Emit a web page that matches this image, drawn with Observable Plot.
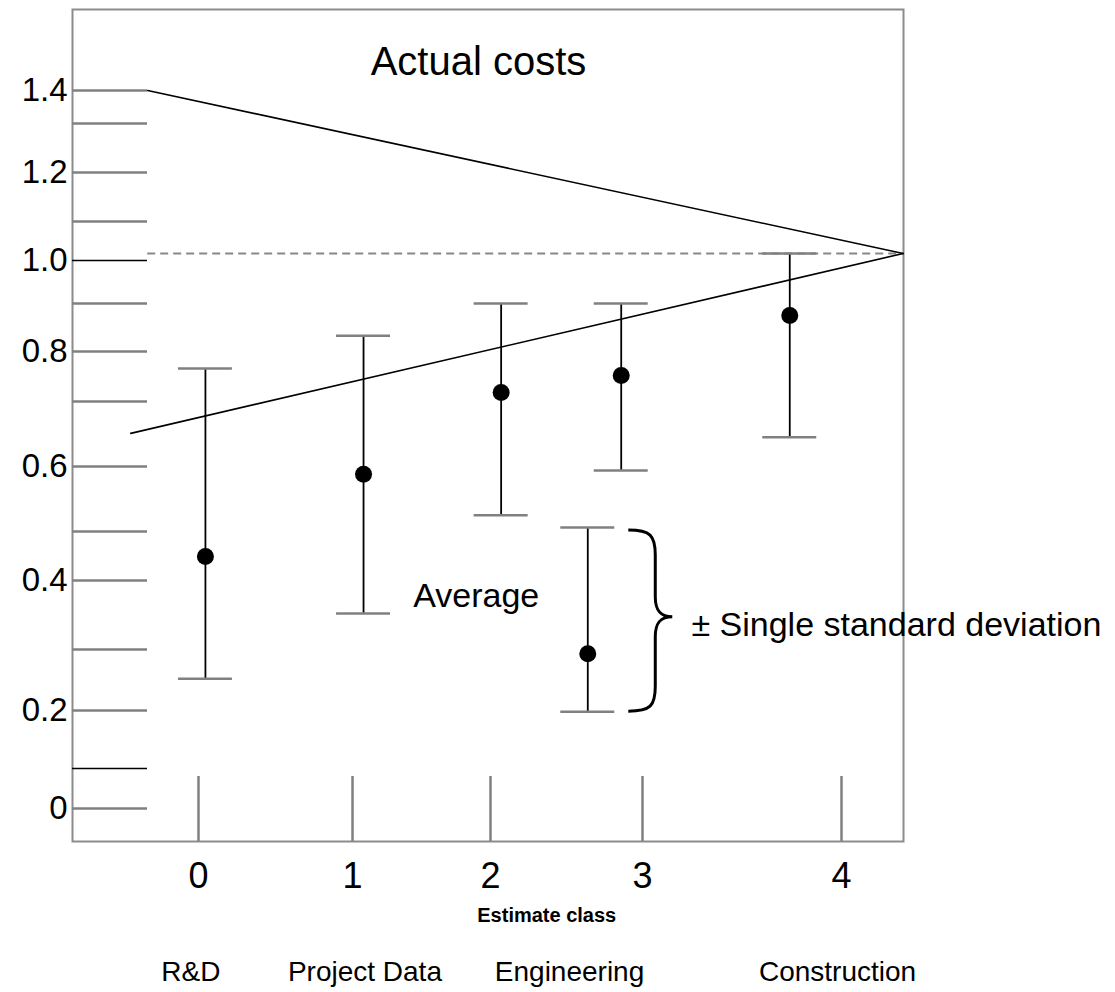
<!DOCTYPE html>
<html>
<head>
<meta charset="utf-8">
<script src="https://cdn.jsdelivr.net/npm/d3@7"></script>
<script src="https://cdn.jsdelivr.net/npm/@observablehq/plot@0.6"></script>
<style>
  html, body { margin: 0; padding: 0; background: #fff; }
  #chart svg { display: block; }
</style>
</head>
<body>
<div id="chart"></div>
<script>
// ---- data ----
const classes = [0, 1, 2, 3, 4];
const classLabels = ["0", "1", "2", "3", "4"];
const pointX = [0.045, 1.08, 2.07, 2.86, 3.74];
const average = [0.449, 0.588, 0.718, 0.752, 0.875];
const sdHigh = [0.766, 0.833, 0.90, 0.90, 1.018];
const sdLow = [0.252, 0.352, 0.525, 0.594, 0.645];

const legendX = [2.64];
const legendAverage = [0.293];
const legendHigh = [0.506];
const legendLow = [0.198];

const labeledTicks = [0, 0.2, 0.4, 0.6, 0.8, 1.0, 1.2, 1.4];
const grayTicks = [0, 0.2, 0.3, 0.4, 0.5, 0.6, 0.7, 0.8, 0.9, 1.1, 1.2, 1.3, 1.4];
const darkTicks = [0.1, 1.0];

const upperX = [-0.33, 4.31];
const upperY = [1.4, 1.018];
const lowerX = [-0.44, 4.31];
const lowerY = [0.651, 1.018];
const targetY = 1.018;

const phases = ["R&D", "Project Data", "Engineering", "Construction"];
const phaseX = [-0.05, 1.09, 2.52, 3.98];

const notes = ["Actual costs", "Average", "\u00B1 Single standard deviation"];
const noteX = [1.913, 1.44, 3.246];
const noteY = [1.485, 0.377, 0.335];

// ---- tables built from the arrays ----
const bars = classes.map((c, i) => ({c, x: pointX[i], avg: average[i], hi: sdHigh[i], lo: sdLow[i]}));
const legendBar = legendX.map((x, i) => ({x, avg: legendAverage[i], hi: legendHigh[i], lo: legendLow[i]}));
const upper = upperX.map((x, i) => ({x, y: upperY[i]}));
const lower = lowerX.map((x, i) => ({x, y: lowerY[i]}));
const phaseRows = phases.map((p, i) => ({p, x: phaseX[i]}));

// hand-drawn, irregular axis spacing in the original -> piecewise linear scales
const yDomain = [0, 0.1, 0.2, 0.3, 0.4, 0.5, 0.6, 0.7, 0.8, 0.9, 1.0, 1.1, 1.2, 1.3, 1.4];
const yRange = [808, 768, 710, 649, 580, 531, 466, 401, 351, 303, 260, 221, 172, 123, 90];
const xRange = [198, 352, 490, 642, 841];

const FONT = "'Liberation Sans', Arial, Helvetica, sans-serif";
const GRAY = "#808080";

function brace(index, scales) {
  const b = legendBar[0];
  const x0 = scales.x(b.x) + 41;
  const top = scales.y(b.hi) + 3;
  const bottom = scales.y(b.lo);
  const mid = (top + bottom) / 2 - 4;
  const p = d3.path();
  p.moveTo(x0, top);
  p.bezierCurveTo(x0 + 22, top, x0 + 27, top + 5, x0 + 27, top + 25);
  p.lineTo(x0 + 27, mid - 20);
  p.bezierCurveTo(x0 + 27, mid - 5, x0 + 33, mid, x0 + 44, mid);
  p.bezierCurveTo(x0 + 33, mid, x0 + 27, mid + 5, x0 + 27, mid + 20);
  p.lineTo(x0 + 27, bottom - 25);
  p.bezierCurveTo(x0 + 27, bottom - 5, x0 + 22, bottom, x0, bottom);
  return d3.create("svg:path")
    .attr("d", p.toString())
    .attr("fill", "none")
    .attr("stroke", "black")
    .attr("stroke-width", 3)
    .node();
}

const chart = Plot.plot({
  width: 1115,
  height: 992,
  marginLeft: 72,
  marginRight: 212,
  marginTop: 9,
  marginBottom: 151,
  style: {fontFamily: FONT, background: "white", color: "black"},
  x: {type: "linear", domain: classes, range: xRange, axis: null},
  y: {type: "linear", domain: yDomain, range: yRange, axis: null},
  marks: [
    Plot.frame({stroke: "#8c8c8c", strokeWidth: 2}),
    // inward tick lines on the y axis
    Plot.ruleY(grayTicks, {insetRight: 756, stroke: GRAY, strokeWidth: 2.5}),
    Plot.ruleY(darkTicks, {insetRight: 756, stroke: "black", strokeWidth: 1.5}),
    // vertical class ticks
    Plot.ruleX(classes, {insetTop: 767, stroke: GRAY, strokeWidth: 2.5}),
    // dashed target line
    Plot.ruleY([targetY], {x1: upperX[0], x2: upperX[1], stroke: "#888", strokeWidth: 2, strokeDasharray: "8,5"}),
    // envelope
    Plot.line(upper, {x: "x", y: "y", stroke: "black", strokeWidth: 1.6}),
    Plot.line(lower, {x: "x", y: "y", stroke: "black", strokeWidth: 1.6}),
    // error bars
    Plot.ruleX(bars, {x: "x", y1: "lo", y2: "hi", stroke: "black", strokeWidth: 1.8}),
    Plot.ruleY(bars, {y: "hi", x1: "x", x2: "x", insetLeft: -27, insetRight: -27, stroke: GRAY, strokeWidth: 2.5}),
    Plot.ruleY(bars, {y: "lo", x1: "x", x2: "x", insetLeft: -27, insetRight: -27, stroke: GRAY, strokeWidth: 2.5}),
    Plot.dot(bars, {x: "x", y: "avg", r: 8.5, fill: "black", stroke: "none"}),
    // legend example
    Plot.ruleX(legendBar, {x: "x", y1: "lo", y2: "hi", stroke: "black", strokeWidth: 1.8}),
    Plot.ruleY(legendBar, {y: "hi", x1: "x", x2: "x", insetLeft: -27, insetRight: -27, stroke: GRAY, strokeWidth: 2.5}),
    Plot.ruleY(legendBar, {y: "lo", x1: "x", x2: "x", insetLeft: -27, insetRight: -27, stroke: GRAY, strokeWidth: 2.5}),
    Plot.dot(legendBar, {x: "x", y: "avg", r: 8.5, fill: "black", stroke: "none"}),
    brace,
    // annotations
    Plot.text([notes[0]], {x: noteX[0], y: noteY[0], text: d => d, fontSize: 40, textAnchor: "middle", fill: "black"}),
    Plot.text([notes[1]], {x: noteX[1], y: noteY[1], text: d => d, fontSize: 34, textAnchor: "start", fill: "black"}),
    Plot.text([notes[2]], {x: noteX[2], y: noteY[2], text: d => d, fontSize: 34, textAnchor: "start", fill: "black"}),
    // axes
    Plot.axisY({ticks: labeledTicks, tickSize: 0, tickPadding: 5, fontSize: 33, label: null,
      tickFormat: d => d === 0 ? "0" : d.toFixed(1)}),
    Plot.axisX({ticks: classes, tickSize: 0, tickPadding: 21, fontSize: 36, label: null,
      tickFormat: (d, i) => classLabels[classes.indexOf(d)]}),
    Plot.text(["Estimate class"], {x: 2.37, frameAnchor: "bottom", dy: 74, text: d => d,
      fontSize: 20, fontWeight: "bold", textAnchor: "middle", lineAnchor: "middle", fill: "black",
      style: "letter-spacing:-1px"}),
    Plot.text(phaseRows, {x: "x", text: "p", frameAnchor: "bottom", dy: 131, fontSize: 28,
      textAnchor: "middle", lineAnchor: "middle", fill: "black"})
  ]
});

document.getElementById("chart").appendChild(chart);
</script>
</body>
</html>
